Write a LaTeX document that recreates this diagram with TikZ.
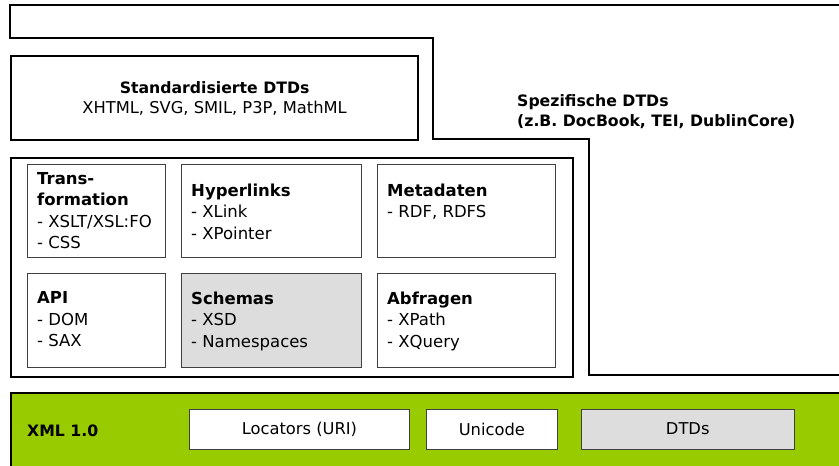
\documentclass[tikz,border=0pt]{standalone}
\usepackage{fontspec}
\setmainfont{DejaVu Sans}
\usetikzlibrary{positioning}
\definecolor{xmlgreen}{HTML}{99CC00}
\definecolor{shade}{HTML}{DDDDDD}
\tikzstyle{frame} = [draw, rectangle, line width=2.2pt, inner sep=0pt,
    anchor=north west]
\tikzstyle{block} = [draw=black!75, rectangle, line width=0.9pt, inner sep=0pt,
    fill=white, anchor=north west]
\tikzstyle{blocktext} = [anchor=north west, align=left, inner sep=0pt,
    font=\fontsize{16.5}{21.5}\selectfont]
\tikzstyle{basebox} = [block, minimum height=40pt, anchor=west,
    font=\fontsize{16.3}{18}\selectfont]

\begin{document}
\begin{tikzpicture}[x=1pt, y=-1pt, line join=miter]
    \useasboundingbox (0,0) rectangle (839,466);
    % We start with the outline of the specific DTDs around everything
    \draw [line width=2.2pt] (845,5) -- (10,5) -- (10,38) -- (433,38)
        -- (433,139) -- (589,139) -- (589,375) -- (845,375);
    \node [anchor=west, align=left, inner sep=0pt,
        font=\bfseries\fontsize{15.7}{20}\selectfont] (spec) at (517,112)
        {Spezifische DTDs\\(z.B. DocBook, TEI, DublinCore)};

    % standardised DTDs
    \node [frame, minimum width=407pt, minimum height=84pt, align=center,
        font=\fontsize{16.3}{20}\selectfont] (std) at (10,55)
        {{\bfseries\fontsize{15.7}{20}\selectfont Standardisierte DTDs}\\XHTML, SVG, SMIL, P3P, MathML};

    % The frame with the six technologies
    \node [frame, minimum width=562pt, minimum height=219pt] (tech) at (10,157) {};
    \node [block, minimum width=138pt, minimum height=93pt] (trans) at (27,164) {};
    \node [block, minimum width=180pt, minimum height=93pt] (links) at (181,164) {};
    \node [block, minimum width=178pt, minimum height=93pt] (meta) at (377,164) {};
    \node [block, minimum width=138pt, minimum height=94pt] (api) at (27,273) {};
    \node [block, minimum width=180pt, minimum height=94pt, fill=shade] (schema) at (181,273) {};
    \node [block, minimum width=178pt, minimum height=94pt] (query) at (377,273) {};

    \node [blocktext] at ([shift={(10,8)}]trans.north west)
        {\textbf{Trans-}\\\textbf{formation}\\- XSLT/XSL:FO\\- CSS};
    \node [blocktext] at ([shift={(10,19.5)}]links.north west)
        {\textbf{Hyperlinks}\\- XLink\\- XPointer};
    \node [blocktext] at ([shift={(10,19.5)}]meta.north west)
        {\textbf{Metadaten}\\- RDF, RDFS};
    \node [blocktext] at ([shift={(10,18.5)}]api.north west)
        {\textbf{API}\\- DOM\\- SAX};
    \node [blocktext] at ([shift={(10,18.5)}]schema.north west)
        {\textbf{Schemas}\\- XSD\\- Namespaces};
    \node [blocktext] at ([shift={(10,18.5)}]query.north west)
        {\textbf{Abfragen}\\- XPath\\- XQuery};

    % XML 1.0 at the bottom
    \node [draw, line width=2.2pt, fill=xmlgreen, rectangle, anchor=north west,
        minimum width=840pt, minimum height=80pt] (xml) at (10,392) {};
    \node [anchor=west, inner sep=0pt, font=\bfseries\fontsize{15.7}{18}\selectfont]
        (xmltitle) at (27,431) {XML 1.0};
    \node [basebox, minimum width=220pt] (uri) at (189,429) {Locators (URI)};
    \node [basebox, minimum width=131pt, right=16pt of uri] (uni) {Unicode};
    \node [basebox, minimum width=213pt, fill=shade, right=23pt of uni] (dtd) {DTDs};
\end{tikzpicture}
\end{document}
